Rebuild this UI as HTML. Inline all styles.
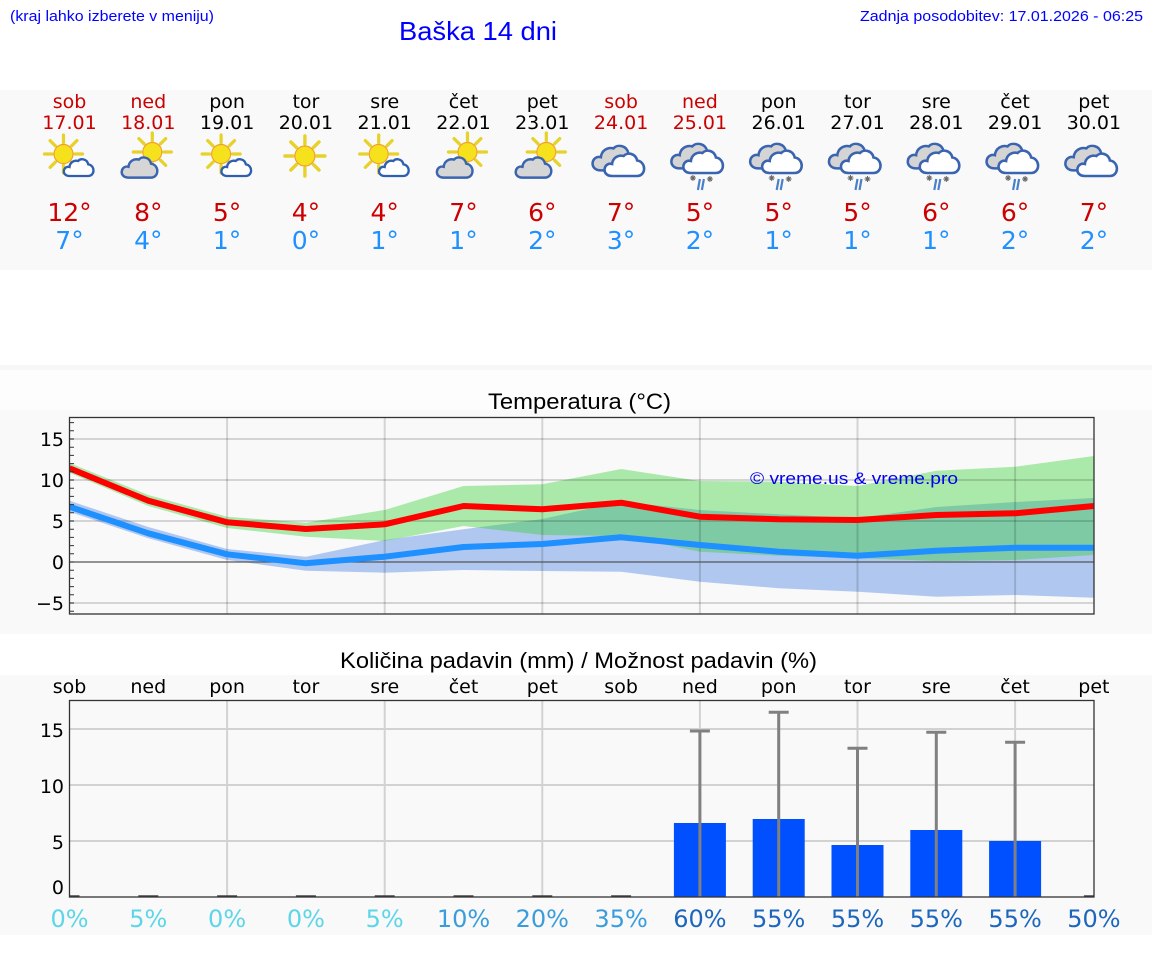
<!DOCTYPE html>
<html><head><meta charset="utf-8"><style>
html,body{margin:0;padding:0;background:#fff;}
svg{display:block;}
.dj{font-family:"DejaVu Sans","Liberation Sans",sans-serif;}
.lb{font-family:"Liberation Sans","DejaVu Sans",sans-serif;}
</style></head><body>
<svg width="1152" height="975" viewBox="0 0 1152 975" xmlns="http://www.w3.org/2000/svg">
<defs>
<path id="cl" d="M8,24 C2.5,24 0,20.5 0.5,17 C1,13 4.5,11 8,12 C8.5,6 14,2.5 19.5,4 C23,0 31.5,1 33,8.5 C37.5,9 40,13 40,16.5 C40,21 37,24 33,24 Z"/>
<g id="sunG">
<path d="M12,0L20,0 M8.5,8.5L14.1,14.1 M0,12L0,20 M-8.5,8.5L-14.1,14.1 M-12,0L-20,0 M-8.5,-8.5L-14.1,-14.1 M0,-12L0,-20 M8.5,-8.5L14.1,-14.1" stroke="#e6d22a" stroke-width="3.4" stroke-linecap="round"/>
<circle r="10" fill="#f6e21c" stroke="#f0a030" stroke-width="1.2"/>
</g>
<g id="i_sc">
<use href="#sunG" transform="translate(-6,154) scale(0.95)"/>
<use href="#cl" transform="translate(-6,158) scale(0.75)" fill="#fff" stroke="#2f5fb0" stroke-width="3.1"/>
</g>
<g id="i_sg">
<use href="#sunG" transform="translate(4,152) scale(0.95)"/>
<use href="#cl" transform="translate(-27,156) scale(0.9)" fill="#d6d6d6" stroke="#3a64b0" stroke-width="2.7"/>
</g>
<g id="i_s">
<use href="#sunG" transform="translate(-1,156) scale(1.0)"/>
</g>
<g id="i_o">
<use href="#cl" transform="translate(-29,144) scale(1.1)" fill="#d4d4d4" stroke="#3a64b0" stroke-width="2.3"/>
<use href="#cl" transform="translate(-17,152) scale(1.0)" fill="#fff" stroke="#3a64b0" stroke-width="2.6"/>
</g>
<g id="i_r">
<use href="#cl" transform="translate(-29,142) scale(1.1)" fill="#d4d4d4" stroke="#3a64b0" stroke-width="2.3"/>
<use href="#cl" transform="translate(-17,149) scale(1.0)" fill="#fff" stroke="#3a64b0" stroke-width="2.6"/>
<path d="M0,179 L-2,190 M4,179 L2,190" stroke="#4a80c8" stroke-width="2.2"/>
<path d="M-10,178 L-4,178 M-7,175 L-7,181 M-9,176 L-5,180 M-9,180 L-5,176 M7,179 L13,179 M10,176 L10,182 M8,177 L12,181 M8,181 L12,177" stroke="#666" stroke-width="1"/>
</g>
<clipPath id="ct"><rect x="69.5" y="417.5" width="1024.5" height="196.5"/></clipPath>
<clipPath id="cp"><rect x="69.5" y="700.5" width="1024.5" height="196.5"/></clipPath>
</defs>

<!-- header -->
<text class="lb" x="10" y="21" font-size="15" fill="#0000ff" textLength="204" lengthAdjust="spacingAndGlyphs">(kraj lahko izberete v meniju)</text>
<text class="lb" x="399" y="40" font-size="26" fill="#0000ff" textLength="158" lengthAdjust="spacingAndGlyphs">Baška 14 dni</text>
<text class="lb" x="860" y="21" font-size="15" fill="#0000ff" textLength="283" lengthAdjust="spacingAndGlyphs">Zadnja posodobitev: 17.01.2026 - 06:25</text>

<!-- panels -->
<rect x="0" y="90" width="1152" height="180" fill="#f9f9f9"/>
<rect x="0" y="365" width="1152" height="5" fill="#f7f7f7"/>
<rect x="0" y="370" width="1152" height="40" fill="#fdfdfd"/>
<rect x="0" y="410" width="1152" height="224" fill="#f9f9f9"/>
<rect x="0" y="675" width="1152" height="260" fill="#f9f9f9"/>

<!-- day headers -->
<g class="dj" font-size="19" text-anchor="middle">
<g fill="#cc0000">
<text x="69.5" y="108">sob</text><text x="69.5" y="129">17.01</text>
<text x="148.3" y="108">ned</text><text x="148.3" y="129">18.01</text>
<text x="621.1" y="108">sob</text><text x="621.1" y="129">24.01</text>
<text x="699.9" y="108">ned</text><text x="699.9" y="129">25.01</text>
</g>
<g fill="#000">
<text x="227.1" y="108">pon</text><text x="227.1" y="129">19.01</text>
<text x="305.9" y="108">tor</text><text x="305.9" y="129">20.01</text>
<text x="384.7" y="108">sre</text><text x="384.7" y="129">21.01</text>
<text x="463.5" y="108">čet</text><text x="463.5" y="129">22.01</text>
<text x="542.3" y="108">pet</text><text x="542.3" y="129">23.01</text>
<text x="778.7" y="108">pon</text><text x="778.7" y="129">26.01</text>
<text x="857.5" y="108">tor</text><text x="857.5" y="129">27.01</text>
<text x="936.3" y="108">sre</text><text x="936.3" y="129">28.01</text>
<text x="1015.1" y="108">čet</text><text x="1015.1" y="129">29.01</text>
<text x="1093.9" y="108">pet</text><text x="1093.9" y="129">30.01</text>
</g>
</g>

<!-- icons -->
<use href="#i_sc" x="69.5"/>
<use href="#i_sg" x="148.3"/>
<use href="#i_sc" x="227.1"/>
<use href="#i_s" x="305.9"/>
<use href="#i_sc" x="384.7"/>
<use href="#i_sg" x="463.5"/>
<use href="#i_sg" x="542.3"/>
<use href="#i_o" x="621.1"/>
<use href="#i_r" x="699.9"/>
<use href="#i_r" x="778.7"/>
<use href="#i_r" x="857.5"/>
<use href="#i_r" x="936.3"/>
<use href="#i_r" x="1015.1"/>
<use href="#i_o" x="1093.9"/>

<!-- temps -->
<g class="dj" font-size="25" text-anchor="middle">
<g fill="#cc0000">
<text x="69.5" y="221">12°</text><text x="148.3" y="221">8°</text><text x="227.1" y="221">5°</text><text x="305.9" y="221">4°</text><text x="384.7" y="221">4°</text><text x="463.5" y="221">7°</text><text x="542.3" y="221">6°</text><text x="621.1" y="221">7°</text><text x="699.9" y="221">5°</text><text x="778.7" y="221">5°</text><text x="857.5" y="221">5°</text><text x="936.3" y="221">6°</text><text x="1015.1" y="221">6°</text><text x="1093.9" y="221">7°</text>
</g>
<g fill="#1e90ff">
<text x="69.5" y="249">7°</text><text x="148.3" y="249">4°</text><text x="227.1" y="249">1°</text><text x="305.9" y="249">0°</text><text x="384.7" y="249">1°</text><text x="463.5" y="249">1°</text><text x="542.3" y="249">2°</text><text x="621.1" y="249">3°</text><text x="699.9" y="249">2°</text><text x="778.7" y="249">1°</text><text x="857.5" y="249">1°</text><text x="936.3" y="249">1°</text><text x="1015.1" y="249">2°</text><text x="1093.9" y="249">2°</text>
</g>
</g>

<!-- Temperature chart -->
<text class="lb" x="488" y="409" font-size="22" fill="#000" textLength="183" lengthAdjust="spacingAndGlyphs">Temperatura (°C)</text>
<g clip-path="url(#ct)">
<polygon fill="#b0c8f0" points="69.5,500.7 148.3,527 227.1,549 305.9,556.7 384.7,540 463.5,529.3 542.3,519 621.1,501.7 699.9,510 778.7,514.3 857.5,518.3 936.3,507 1015.1,502 1093.9,498 1093.9,597.7 1015.1,595 936.3,596.7 857.5,591.7 778.7,588.3 699.9,581.7 621.1,571.7 542.3,571 463.5,570 384.7,572.7 305.9,570.7 227.1,560 148.3,538.3 69.5,511.7"/>
<polygon fill="rgb(38,206,38)" fill-opacity="0.37" points="69.5,463 148.3,495 227.1,516.7 305.9,522.7 384.7,510 463.5,486 542.3,484.3 621.1,469 699.9,481 778.7,481.7 857.5,486 936.3,470.7 1015.1,466.7 1093.9,456 1093.9,555 1015.1,560 936.3,561 857.5,558 778.7,555.7 699.9,551.7 621.1,536 542.3,535 463.5,526 384.7,541 305.9,536.7 227.1,528 148.3,506 69.5,472.7"/>
<g stroke="rgba(0,0,0,0.15)" stroke-width="2">
<path d="M69.5,439H1094 M69.5,480H1094 M69.5,521H1094 M69.5,603H1094"/>
<path d="M227.1,417.5V614 M384.7,417.5V614 M542.3,417.5V614 M699.9,417.5V614 M857.5,417.5V614 M1015.1,417.5V614"/>
</g>
<path d="M69.5,562H1094" stroke="#555" stroke-width="1.2"/>
<text class="lb" x="750" y="484" font-size="17" fill="#0000ee" textLength="208" lengthAdjust="spacingAndGlyphs">© vreme.us &amp; vreme.pro</text>
<polyline fill="none" stroke="#ff0000" stroke-width="6" stroke-linejoin="round" points="69.5,468.3 148.3,500.7 227.1,522.3 305.9,529 384.7,524.3 463.5,506 542.3,509.3 621.1,502.7 699.9,516.7 778.7,519.3 857.5,520 936.3,515 1015.1,513.3 1093.9,506"/>
<polyline fill="none" stroke="#1e90ff" stroke-width="6" stroke-linejoin="round" points="69.5,506.7 148.3,533.3 227.1,554.3 305.9,563.3 384.7,556.7 463.5,547 542.3,544 621.1,537.3 699.9,545 778.7,551.7 857.5,555.7 936.3,550.7 1015.1,547.7 1093.9,547.7"/>
</g>
<path d="M69.5,611.2h4.5M69.5,603h4.5M69.5,594.8h4.5M69.5,586.6h4.5M69.5,578.4h4.5M69.5,570.2h4.5M69.5,562h4.5M69.5,553.8h4.5M69.5,545.6h4.5M69.5,537.4h4.5M69.5,529.2h4.5M69.5,521h4.5M69.5,512.8h4.5M69.5,504.6h4.5M69.5,496.4h4.5M69.5,488.2h4.5M69.5,480h4.5M69.5,471.8h4.5M69.5,463.6h4.5M69.5,455.4h4.5M69.5,447.2h4.5M69.5,439h4.5M69.5,430.8h4.5M69.5,422.6h4.5" stroke="#333" stroke-width="1"/>
<rect x="69.5" y="417.5" width="1024.5" height="196.5" fill="none" stroke="#333" stroke-width="1.3"/>
<g class="dj" font-size="19" text-anchor="end" fill="#000">
<text x="64" y="446">15</text><text x="64" y="487">10</text><text x="64" y="528">5</text><text x="64" y="569">0</text><text x="64" y="610">−5</text>
</g>

<!-- Precip chart -->
<text class="lb" x="340" y="668" font-size="22" fill="#000" textLength="477" lengthAdjust="spacingAndGlyphs">Količina padavin (mm) / Možnost padavin (%)</text>
<g class="dj" font-size="19" text-anchor="middle" fill="#000">
<text x="69.5" y="693">sob</text><text x="148.3" y="693">ned</text><text x="227.1" y="693">pon</text><text x="305.9" y="693">tor</text><text x="384.7" y="693">sre</text><text x="463.5" y="693">čet</text><text x="542.3" y="693">pet</text><text x="621.1" y="693">sob</text><text x="699.9" y="693">ned</text><text x="778.7" y="693">pon</text><text x="857.5" y="693">tor</text><text x="936.3" y="693">sre</text><text x="1015.1" y="693">čet</text><text x="1093.9" y="693">pet</text>
</g>
<g clip-path="url(#cp)">
<g stroke="#d2d2d2" stroke-width="2">
<path d="M69.5,729H1094 M69.5,785H1094 M69.5,841H1094"/>
<path d="M227.1,700.5V897 M384.7,700.5V897 M542.3,700.5V897 M699.9,700.5V897 M857.5,700.5V897 M1015.1,700.5V897"/>
</g>
<g fill="#0050ff">
<rect x="673.9" y="823" width="52" height="74"/>
<rect x="752.7" y="819" width="52" height="78"/>
<rect x="831.5" y="845" width="52" height="52"/>
<rect x="910.3" y="830" width="52" height="67"/>
<rect x="989.1" y="841" width="52" height="56"/>
</g>
<g stroke="#808080" stroke-width="3">
<path d="M699.9,731V897 M689.9,731H709.9"/>
<path d="M778.7,712.3V897 M768.7,712.3H788.7"/>
<path d="M857.5,748.3V897 M847.5,748.3H867.5"/>
<path d="M936.3,732.3V897 M926.3,732.3H946.3"/>
<path d="M1015.1,742.3V897 M1005.1,742.3H1025.1"/>
</g>
<path d="M59.5,896.5h20M138.3,896.5h20M217.1,896.5h20M295.9,896.5h20M374.7,896.5h20M453.5,896.5h20M532.3,896.5h20M611.1,896.5h20M1083.9,896.5h20" stroke="#444" stroke-width="2.5"/>
</g>
<rect x="69.5" y="700.5" width="1024.5" height="196.5" fill="none" stroke="#333" stroke-width="1.3"/>
<g class="dj" font-size="19" text-anchor="end" fill="#000">
<text x="64" y="737">15</text><text x="64" y="793">10</text><text x="64" y="849">5</text><text x="64" y="894">0</text>
</g>
<g class="dj" font-size="24" text-anchor="middle">
<text x="69.5" y="927" fill="#5cd6e8">0%</text>
<text x="148.3" y="927" fill="#5cd6e8">5%</text>
<text x="227.1" y="927" fill="#5cd6e8">0%</text>
<text x="305.9" y="927" fill="#5cd6e8">0%</text>
<text x="384.7" y="927" fill="#5cd6e8">5%</text>
<text x="463.5" y="927" fill="#3a9ddb">10%</text>
<text x="542.3" y="927" fill="#3a9ddb">20%</text>
<text x="621.1" y="927" fill="#3a9ddb">35%</text>
<text x="699.9" y="927" fill="#1c66bd">60%</text>
<text x="778.7" y="927" fill="#1c66bd">55%</text>
<text x="857.5" y="927" fill="#1c66bd">55%</text>
<text x="936.3" y="927" fill="#1c66bd">55%</text>
<text x="1015.1" y="927" fill="#1c66bd">55%</text>
<text x="1093.9" y="927" fill="#1c66bd">50%</text>
</g>
</svg>
</body></html>
